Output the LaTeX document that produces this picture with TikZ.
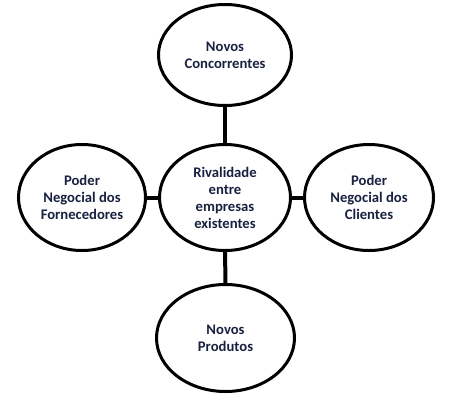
\documentclass[tikz,border=0pt]{standalone}
\usepackage{fontspec}
\setmainfont{Carlito}
\usetikzlibrary{shapes.geometric}
\definecolor{txtnavy}{RGB}{25,32,64}
\tikzset{
  force/.style={ellipse, draw=black, line width=2.25pt, inner sep=0pt,
    align=center, font=\bfseries\fontsize{11}{12.75}\selectfont, text=txtnavy},
  link/.style={draw=black, line width=3pt}
}
\begin{document}
\begin{tikzpicture}[x=0.75pt,y=-0.75pt]
\useasboundingbox (0,0) rectangle (463,400);
\node[force, minimum width=99.75pt, minimum height=75.75pt] (top) at (225,55) {Novos\\Concorrentes};
\node[force, minimum width=98.25pt, minimum height=79.5pt] (mid) at (225,197.5) {Rivalidade\\entre\\empresas\\existentes};
\node[force, minimum width=95.25pt, minimum height=79.5pt] (left) at (82,197.5) {Poder\\Negocial dos\\Fornecedores};
\node[force, minimum width=96.75pt, minimum height=79.5pt] (right) at (369,197.5) {Poder\\Negocial dos\\Clientes};
\node[force, minimum width=103.5pt, minimum height=80.25pt] (bot) at (225.5,338) {Novos\\Produtos};
\draw[link] (top) -- (mid);
\draw[link] (mid) -- (bot);
\draw[link] (left.east) -- (mid.west);
\draw[link] (mid.east) -- (right.west);
\end{tikzpicture}
\end{document}
